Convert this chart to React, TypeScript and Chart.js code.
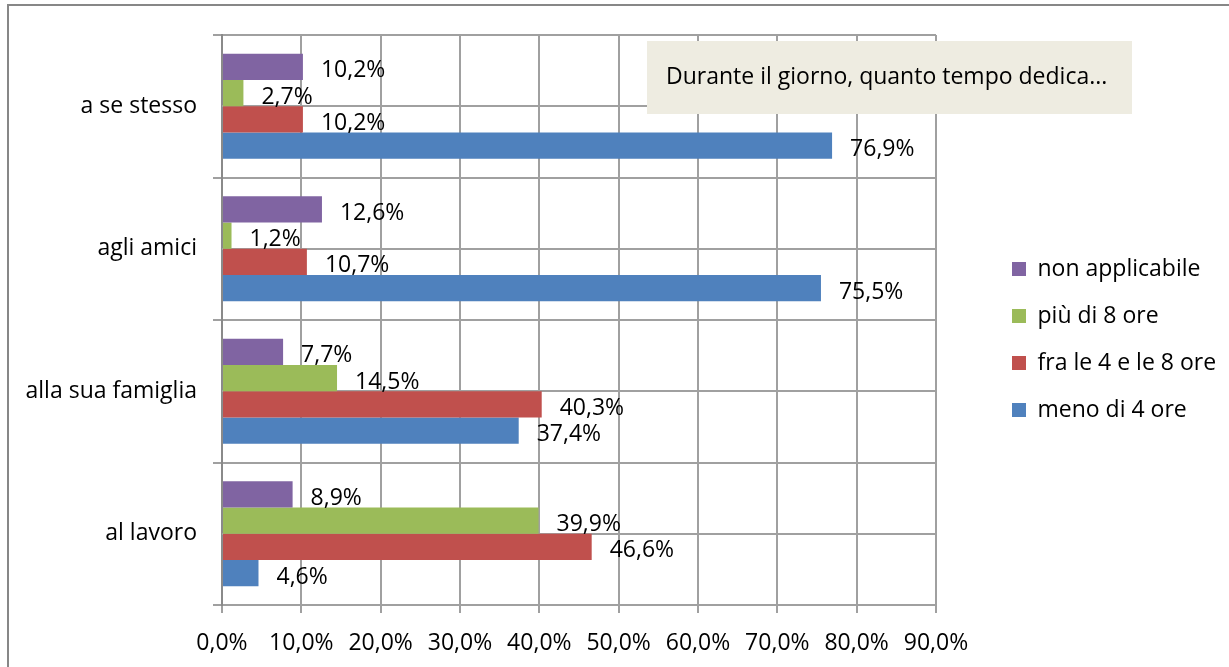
import React, { useEffect, useRef } from "react";
import { Chart, registerables } from "chart.js";

Chart.register(...registerables);

const categories = ["a se stesso", "agli amici", "alla sua famiglia", "al lavoro"];
const seriesNames = ["non applicabile", "più di 8 ore", "fra le 4 e le 8 ore", "meno di 4 ore"];
const nonApplicabile = [10.2, 12.6, 7.7, 8.9];
const piuDi8 = [2.7, 1.2, 14.5, 39.9];
const fra4e8 = [10.2, 10.7, 40.3, 46.6];
const menoDi4 = [76.9, 75.5, 37.4, 4.6];
const seriesColors = ["#8064A2", "#9BBB59", "#C0504D", "#4F81BD"];
const xTicks = [0, 10, 20, 30, 40, 50, 60, 70, 80, 90];
const titleText = "Durante il giorno, quanto tempo dedica...";

const FONT = "'Open Sans', 'DejaVu Sans', sans-serif";
const FS = 23;
const GRID = "#a0a0a0";

const fmt = (v: number) => v.toFixed(1).replace(".", ",") + "%";

const decorPlugin = {
  id: "decor",
  afterLayout(chart: any) {
    const lg = chart.legend;
    if (lg) {
      const pad = lg.options.labels.padding;
      const w = lg.width;
      const h = lg.height;
      lg.left = 1012 - pad;
      lg.right = lg.left + w;
      lg.top = 257.5 - pad;
      lg.bottom = lg.top + h;
    }
  },
  beforeDraw(chart: any) {
    const ctx = chart.ctx;
    ctx.save();
    ctx.strokeStyle = "#878787";
    ctx.lineWidth = 2;
    ctx.beginPath();
    ctx.moveTo(8, 667);
    ctx.lineTo(8, 5);
    ctx.lineTo(1229, 5);
    ctx.stroke();
    ctx.restore();
  },
  beforeDatasetsDraw(chart: any) {
    const ctx = chart.ctx;
    const y = chart.scales.y;
    const a = chart.chartArea;
    ctx.save();
    ctx.strokeStyle = GRID;
    ctx.lineWidth = 2;
    categories.forEach((_, i) => {
      const py = Math.round(y.getPixelForValue(i));
      ctx.beginPath();
      ctx.moveTo(a.left, py);
      ctx.lineTo(a.right, py);
      ctx.stroke();
    });
    ctx.restore();
  },
  afterDatasetsDraw(chart: any) {
    const ctx = chart.ctx;
    ctx.save();
    ctx.font = `${FS}px ${FONT}`;
    ctx.fillStyle = "#000";
    ctx.textAlign = "left";
    ctx.textBaseline = "middle";
    chart.data.datasets.forEach((ds: any, di: number) => {
      const meta = chart.getDatasetMeta(di);
      meta.data.forEach((el: any, i: number) => {
        ctx.fillText(fmt(ds.data[i]), el.x + 18, el.y + 4);
      });
    });
    ctx.restore();
  },
  afterDraw(chart: any) {
    const ctx = chart.ctx;
    ctx.save();
    ctx.fillStyle = "#EEECE1";
    ctx.fillRect(647, 41, 485, 73);
    ctx.font = `${FS}px ${FONT}`;
    ctx.fillStyle = "#000";
    ctx.textAlign = "left";
    ctx.textBaseline = "middle";
    ctx.fillText(titleText, 666, 77);
    ctx.restore();
  },
};

export default function App() {
  const ref = useRef<HTMLCanvasElement | null>(null);
  useEffect(() => {
    if (!ref.current) return;
    Chart.defaults.font.family = FONT;
    const seriesData = [nonApplicabile, piuDi8, fra4e8, menoDi4];
    const chart = new Chart(ref.current, {
      type: "bar",
      data: {
        labels: categories,
        datasets: seriesNames.map((name, i) => ({
          label: name,
          data: seriesData[i],
          backgroundColor: seriesColors[i],
          borderWidth: 0,
          categoryPercentage: 0.737,
          barPercentage: 1.0,
        })),
      },
      options: {
        indexAxis: "y",
        animation: false,
        responsive: false,
        layout: { padding: { top: 35, left: 0, right: 293, bottom: 0 } },
        plugins: {
          legend: {
            position: "chartArea",
            align: "start",
            labels: {
              boxWidth: 14,
              boxHeight: 14,
              padding: 24,
              color: "#000",
              font: { size: FS, family: FONT },
            },
          },
          tooltip: { enabled: false },
          title: { display: false },
        },
        scales: {
          x: {
            min: 0,
            max: 90,
            afterFit: (s: any) => {
              s.height = 62;
            },
            afterBuildTicks: (s: any) => {
              s.ticks = xTicks.map((v) => ({ value: v }));
            },
            ticks: {
              callback: (v: any) => fmt(Number(v)),
              color: "#000",
              font: { size: FS, family: FONT },
              padding: 17,
              maxRotation: 0,
            },
            grid: { color: GRID, lineWidth: 2, tickLength: 8, drawTicks: true },
            border: { display: true, color: GRID, width: 2 },
          },
          y: {
            afterFit: (s: any) => {
              s.width = 222;
            },
            ticks: {
              color: "#000",
              font: { size: FS, family: FONT },
              padding: 16,
            },
            grid: { color: GRID, lineWidth: 2, tickLength: 9, offset: true, drawTicks: true },
            border: { display: true, color: "#8a8a8a", width: 2 },
          },
        },
      },
      plugins: [decorPlugin],
    } as any);
    return () => chart.destroy();
  }, []);
  return (
    <div style={{ position: "fixed", left: 0, top: 0, width: 1229, height: 667, background: "#fff" }}>
      <canvas ref={ref} width={1229} height={667} />
    </div>
  );
}
